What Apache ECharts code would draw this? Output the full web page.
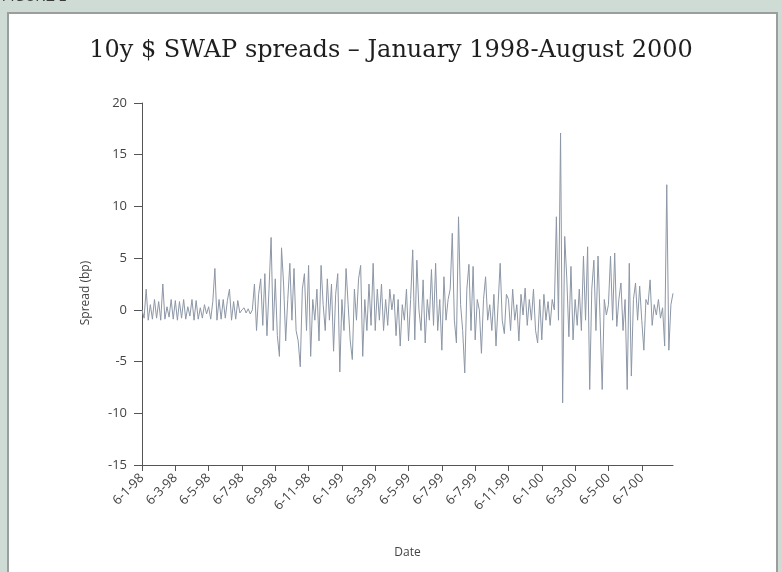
<!DOCTYPE html>
<html>
<head>
<meta charset="utf-8">
<script src="https://cdn.jsdelivr.net/npm/echarts@6/dist/echarts.min.js"></script>
<style>html,body{margin:0;padding:0;background:#cfdbd5;}#c{width:782px;height:572px;}</style>
</head>
<body>
<div id="c"></div>
<script>
// Tick labels on the date axis (one every 16 observations), as printed in the source
var tickLabels = ['6-1-98','6-3-98','6-5-98','6-7-98','6-9-98','6-11-98','6-1-99','6-3-99',
                  '6-5-99','6-7-99','6-7-99','6-11-99','6-1-00','6-3-00','6-5-00','6-7-00'];
var tickStep = 16;

// Spread (bp) values, in 16-point blocks between date ticks
var seg01 = [0,-0.8,2,-1,0.5,-0.9,1,-0.8,0.8,-1,2.5,-0.9,0.3,-0.7,1,-0.9,
             0.9,-1,0.8,-0.8,1,-0.9,0.3,-0.6,1,-1,0.9,-0.9,0.2,-0.8,0.5,-0.4];
var seg23 = [0.3,-0.9,0.8,4,-1,1,-0.9,1,-0.8,0.9,2,-1,0.8,-0.9,0.9,-0.3,
             0,0.2,-0.3,0.1,-0.4,0,2.5,-2,1.5,3,-1.5,3.5,-2.5,2,7,-2];
var seg45 = [3,-2.5,-4.5,6,2.5,-3,1,4.5,-1,4,-2,-3,-5.5,2,3.5,-2,
             4.3,-4.5,1,-1,2,-3,4.3,0.5,-2,3,-1,2.5,-4,1.5,3.5,-6];
var seg67 = [1,-2,4,0.5,-3,-4.8,2,-1,3,4.3,-4.5,1,-2,2.5,-1.5,4.5,
             -2,2,-1,2.5,-2,1,-1.5,2,0,1.5,-2.5,1,-3.5,0.5,-1,2];
var seg89 = [-3,1,5.8,-2.9,4.8,0,-2,2.9,-3.2,1,-1,3.9,-1.5,4.5,-2,1,
             -3.9,3.2,-1,1,2,7.4,-1,-3.2,9,0.5,-2,-6.1,2,4.4,-2,4.2];
var seg1011 = [-2.9,1,0,-4.2,1,3.2,-1,0.5,-2,1.5,-3.5,0.5,4.5,-1,-2.3,1.5,
               1,-2,2,-1,0.5,-3,1.5,-0.5,2.1,-1.5,1,-1,2,-2,-3.2,1];
var seg1213 = [-2.9,1.5,-1,0.8,-1.5,1,0,9,-1,17.1,-9,7.1,3,-2.6,4.2,-2.9,
               1,-1.5,2,-2,5.2,-1,6.1,-7.7,2,4.8,-2,5.2,-1,-7.7,1,-0.5];
var seg1415 = [0.5,5.2,-1,5.5,-1.6,1,2.6,-2,1,-7.7,4.5,-6.4,1,2.6,-1,2.3,
               -1,-3.9,1,0.5,2.9,-1.5,0.5,-0.5,1,-0.8,0.2,-3.5,12.1,-3.9,0.5,1.6];

var spreads = [].concat(seg01, seg23, seg45, seg67, seg89, seg1011, seg1213, seg1415);
var obs = spreads.map(function (v, i) { return String(i); });

var chart = echarts.init(document.getElementById('c'), null, {renderer: 'canvas'});
var axisFont = '"Open Sans", "DejaVu Sans", sans-serif';
chart.setOption({
  backgroundColor: '#cfdbd5',
  animation: false,
  graphic: [
    {type: 'text', left: 2, top: -10, z: -5,
     style: {text: 'FIGURE 1', fill: '#3a3a3a', font: '14px "Liberation Sans", sans-serif'}},
    {type: 'rect', shape: {x: 8, y: 13, width: 769, height: 580}, z: -10,
     style: {fill: '#ffffff', stroke: '#9a9e9c', lineWidth: 2}},
    {type: 'text', x: 86, y: 293, rotation: Math.PI / 2, z: 5,
     style: {text: 'Spread (bp)', fill: '#444', font: '12px ' + axisFont, align: 'center', verticalAlign: 'middle'}}
  ],
  title: {
    text: '10y $ SWAP spreads \u2013 January 1998-August 2000',
    left: 'center', top: 34,
    textStyle: {fontFamily: '"DejaVu Serif", "Liberation Serif", serif', fontSize: 24, fontWeight: 'normal', color: '#1e1e1e'}
  },
  grid: {left: 142, right: 109, top: 103, bottom: 107, containLabel: false},
  xAxis: {
    type: 'category', data: obs, boundaryGap: false,
    name: 'Date', nameLocation: 'middle', nameGap: 82,
    nameTextStyle: {fontFamily: axisFont, fontSize: 12, color: '#444'},
    axisLine: {onZero: false, lineStyle: {color: '#555', width: 1}},
    axisTick: {length: 6, interval: function (i) { return i % tickStep === 0; }, lineStyle: {color: '#555'}},
    axisLabel: {
      interval: function (i) { return i % tickStep === 0; },
      rotate: 45, margin: 11, fontFamily: axisFont, fontSize: 13, color: '#444',
      overflow: 'none',
      formatter: function (v, i) { return i % tickStep === 0 ? (tickLabels[i / tickStep] || '') : ''; }
    },
    splitLine: {show: false}
  },
  yAxis: {
    type: 'value', min: -15, max: 20, interval: 5,
    axisLine: {show: true, lineStyle: {color: '#555', width: 1}},
    axisTick: {show: true, length: 8, lineStyle: {color: '#555'}},
    axisLabel: {margin: 15, fontFamily: axisFont, fontSize: 13, color: '#444'},
    splitLine: {show: false}
  },
  series: [{
    type: 'line', data: spreads, showSymbol: false, symbol: 'none',
    lineStyle: {color: '#8d97a6', width: 1}
  }]
});
</script>
</body>
</html>
